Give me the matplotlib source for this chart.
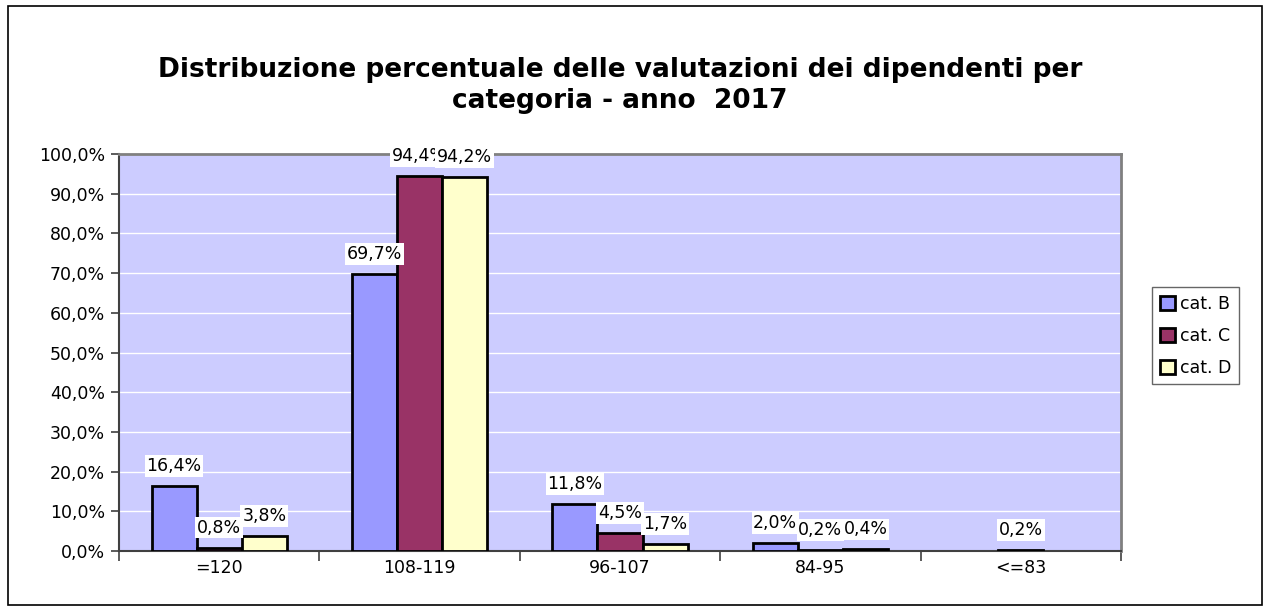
import numpy as np
import matplotlib.pyplot as plt
from matplotlib.patches import Rectangle

categories = ['=120', '108-119', '96-107', '84-95', '<=83']
series_names = ['cat. B', 'cat. C', 'cat. D']
cat_b = [16.4, 69.7, 11.8, 2.0, 0.0]
cat_c = [0.8, 94.4, 4.5, 0.2, 0.2]
cat_d = [3.8, 94.2, 1.7, 0.4, 0.0]
colors = ['#9999FF', '#993366', '#FFFFCC']

plt.rcParams['font.family'] = 'DejaVu Sans'

fig = plt.figure(figsize=(12.68, 6.11), dpi=100)
fig.patches.append(Rectangle((8 / 1268, 6 / 611), 1254 / 1268, 599 / 611,
                             transform=fig.transFigure, fill=False,
                             edgecolor='black', linewidth=1.2))
ax = fig.add_axes([119 / 1268, 1 - 551 / 611, 1002 / 1268, 397 / 611])
ax.set_facecolor('#CCCCFF')

x = np.arange(len(categories))
w = 0.225
for i, (vals, name) in enumerate(zip([cat_b, cat_c, cat_d], series_names)):
    pos = x + (i - 1) * w
    vals = np.array(vals)
    keep = vals > 0
    ax.bar(pos[keep], vals[keep], width=w, color=colors[i], edgecolor='black',
           linewidth=2, label=name, zorder=3)
    for p, v in zip(pos[keep], vals[keep]):
        lbl = ('%.1f%%' % v).replace('.', ',')
        ax.annotate(lbl, (p, v), xytext=(0, 8), textcoords='offset points',
                    ha='center', va='bottom', fontsize=12.5, zorder=5,
                    bbox=dict(boxstyle='square,pad=0.1', fc='white', ec='none'))

ax.set_xlim(-0.5, 4.5)
ax.set_ylim(0, 100)
yt = np.arange(0, 101, 10)
ax.set_yticks(yt)
ax.set_yticklabels([('%.1f%%' % v).replace('.', ',') for v in yt], fontsize=12.5)
ax.yaxis.grid(True, color='white', linewidth=1, zorder=1)
ax.set_axisbelow(True)

ax.set_xticks(x)
ax.set_xticklabels(categories, fontsize=12.5)
ax.tick_params(axis='x', which='major', length=0, pad=6)
ax.set_xticks(np.arange(-0.5, 5.0, 1.0), minor=True)
ax.tick_params(axis='x', which='minor', length=7, width=1.2, color='#404040', direction='out')
ax.tick_params(axis='y', length=6, width=1.2, color='#404040', direction='out', pad=4)

for s in ['top', 'right']:
    ax.spines[s].set_color('#808080')
    ax.spines[s].set_linewidth(2)
for s in ['left', 'bottom']:
    ax.spines[s].set_color('#404040')
    ax.spines[s].set_linewidth(1.5)

ax.set_title('Distribuzione percentuale delle valutazioni dei dipendenti per\n'
             'categoria - anno  2017', fontsize=19, fontweight='bold',
             y=1.0, pad=33, linespacing=1.25)

leg = ax.legend(loc='upper left', bbox_to_anchor=(1033 / 1002, (551 - 287) / 397),
                fontsize=12.5, frameon=True, fancybox=False, edgecolor='#404040',
                handlelength=0.85, handleheight=0.85, handletextpad=0.3,
                borderpad=0.45, labelspacing=0.8, borderaxespad=0)
leg.get_frame().set_linewidth(1)

plt.savefig('out.png', dpi=100)
